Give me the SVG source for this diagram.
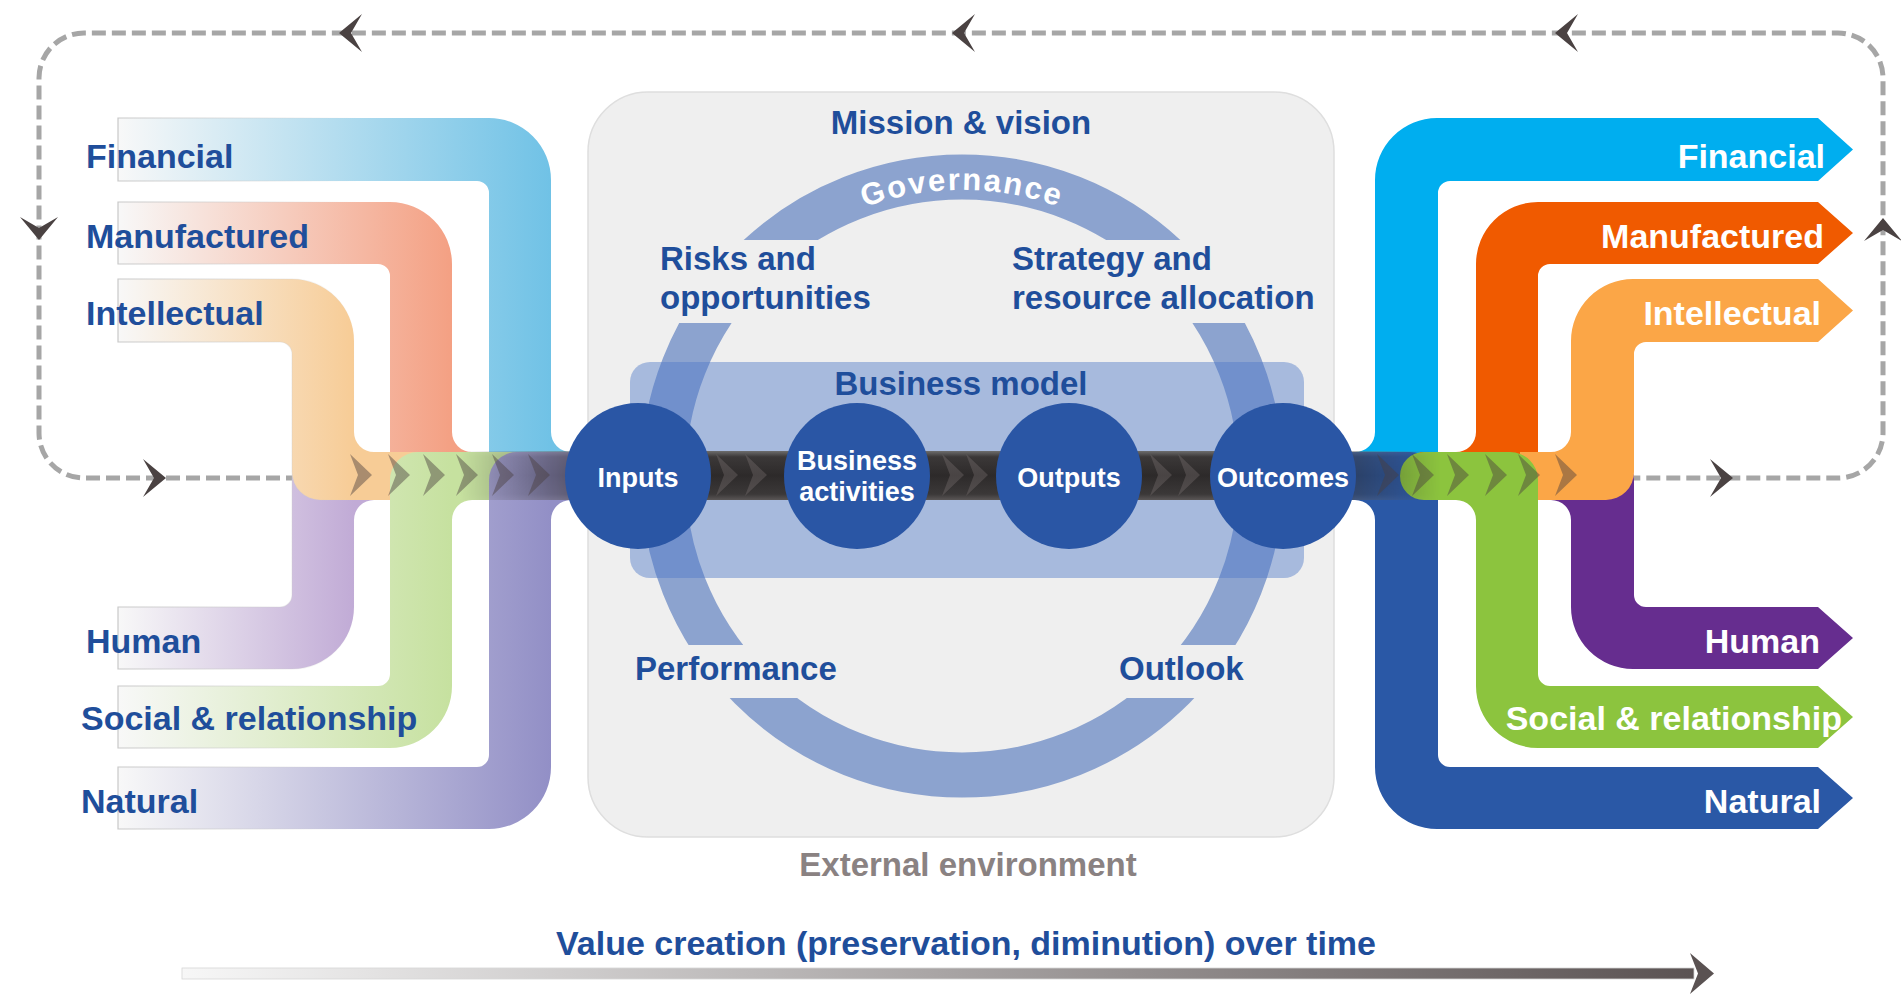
<svg xmlns="http://www.w3.org/2000/svg" xmlns:xlink="http://www.w3.org/1999/xlink" width="1901" height="1002" viewBox="0 0 1901 1002">
<style>
  .lbl { font-family: "Liberation Sans", Arial, sans-serif; font-weight: bold; }
  .cap-in { font-size: 34px; fill: #1f4e9b; }
  .cap-out { font-size: 34px; fill: #ffffff; text-anchor: end; }
  .ctr { font-size: 33px; fill: #1f4e9b; }
  .node-txt { font-size: 27px; fill: #ffffff; text-anchor: middle; }
  .dash { fill: none; stroke: #a6a6a6; stroke-width: 5; stroke-dasharray: 14 6; }
  .ahead { fill: #4a4242; }
  .chev-l { fill: #4a3f3f; fill-opacity: 0.45; }
  .chev-c { fill: #8a8080; fill-opacity: 0.3; }
  .node { fill: #2a56a5; }
  .pipe-in { stroke: url(#edgeFade); stroke-width: 1.2; }
</style>
<defs>
  <linearGradient id="gFinIn" gradientUnits="userSpaceOnUse" x1="118" y1="0" x2="551" y2="0"><stop offset="0" stop-color="#f8f8f8"/><stop offset="1" stop-color="#70c2e6"/></linearGradient>
  <linearGradient id="gManIn" gradientUnits="userSpaceOnUse" x1="118" y1="0" x2="452" y2="0"><stop offset="0" stop-color="#f8f8f8"/><stop offset="1" stop-color="#f4a083"/></linearGradient>
  <linearGradient id="gIntIn" gradientUnits="userSpaceOnUse" x1="118" y1="0" x2="354" y2="0"><stop offset="0" stop-color="#f8f8f8"/><stop offset="1" stop-color="#f7cc96"/></linearGradient>
  <linearGradient id="gHumIn" gradientUnits="userSpaceOnUse" x1="118" y1="0" x2="354" y2="0"><stop offset="0" stop-color="#f8f8f8"/><stop offset="1" stop-color="#c1abd6"/></linearGradient>
  <linearGradient id="gSocIn" gradientUnits="userSpaceOnUse" x1="118" y1="0" x2="452" y2="0"><stop offset="0" stop-color="#f8f8f8"/><stop offset="1" stop-color="#c6e19f"/></linearGradient>
  <linearGradient id="gNatIn" gradientUnits="userSpaceOnUse" x1="118" y1="0" x2="551" y2="0"><stop offset="0" stop-color="#f8f8f8"/><stop offset="1" stop-color="#928fc6"/></linearGradient>
  <linearGradient id="edgeFade" gradientUnits="userSpaceOnUse" x1="118" y1="0" x2="360" y2="0"><stop offset="0" stop-color="#c8c8c8" stop-opacity="1"/><stop offset="1" stop-color="#c8c8c8" stop-opacity="0"/></linearGradient>
  <linearGradient id="darkV" x1="0" y1="0" x2="0" y2="1"><stop offset="0" stop-color="#6d6d6d"/><stop offset="0.12" stop-color="#3b3838"/><stop offset="0.5" stop-color="#2d2a2a"/><stop offset="0.88" stop-color="#3b3838"/><stop offset="1" stop-color="#5a5656"/></linearGradient>
  <linearGradient id="bandFade" gradientUnits="userSpaceOnUse" x1="450" y1="0" x2="1450" y2="0">
    <stop offset="0.01" stop-color="#fff" stop-opacity="0"/>
    <stop offset="0.116" stop-color="#fff" stop-opacity="0.55"/>
    <stop offset="0.19" stop-color="#fff" stop-opacity="1"/>
    <stop offset="0.84" stop-color="#fff" stop-opacity="1"/>
    <stop offset="0.906" stop-color="#fff" stop-opacity="0.5"/>
    <stop offset="0.99" stop-color="#fff" stop-opacity="0"/>
  </linearGradient>
  <mask id="bandMask" maskUnits="userSpaceOnUse" x="440" y="440" width="1020" height="70"><rect x="440" y="440" width="1020" height="70" fill="url(#bandFade)"/></mask>
  <linearGradient id="timeGrad" gradientUnits="userSpaceOnUse" x1="182" y1="0" x2="1700" y2="0"><stop offset="0" stop-color="#f7f7f7"/><stop offset="1" stop-color="#5a5252"/></linearGradient>
  <clipPath id="ringClip">
    <rect x="600" y="100" width="730" height="140"/>
    <rect x="600" y="323" width="730" height="322"/>
    <rect x="600" y="698" width="730" height="130"/>
  </clipPath>
  <path id="govPath" d="M676 476 A286 286 0 0 1 1248 476"/>
  <path id="ah" d="M0 0 L-23 -19 L-12 0 L-23 19 Z"/>
  <path id="chev" d="M0 -21 L22 0 L0 21 L8 0 Z"/>
</defs>

<!-- Central panel -->
<g id="business-panel">
  <rect x="588" y="92" width="746" height="745" rx="60" fill="#efefef" stroke="#dedede" stroke-width="1.5"/>
  <circle cx="962" cy="476" r="299" fill="none" stroke="#2a58b0" stroke-opacity="0.5" stroke-width="45" clip-path="url(#ringClip)"/>
  <text class="lbl" font-size="31" fill="#ffffff" letter-spacing="2"><textPath href="#govPath" startOffset="50%" text-anchor="middle">Governance</textPath></text>
  <rect x="630" y="362" width="674" height="216" rx="20" fill="#4f7ac8" fill-opacity="0.45"/>
  <text class="lbl ctr" x="961" y="134" text-anchor="middle">Mission &amp; vision</text>
  <text class="lbl ctr" x="660" y="270">Risks and</text>
  <text class="lbl ctr" x="660" y="309">opportunities</text>
  <text class="lbl ctr" x="1012" y="270">Strategy and</text>
  <text class="lbl ctr" x="1012" y="309">resource allocation</text>
  <text class="lbl ctr" x="961" y="395" text-anchor="middle">Business model</text>
  <text class="lbl ctr" x="635" y="680">Performance</text>
  <text class="lbl ctr" x="1119" y="680">Outlook</text>
</g>
<text id="external-environment" class="lbl" x="968" y="876" font-size="33" fill="#8a8282" text-anchor="middle">External environment</text>

<!-- Dashed feedback loop -->
<g id="connectors">
  <path class="dash" d="M300 478 H84 A45 45 0 0 1 39 433 V78 A45 45 0 0 1 84 33 H1838 A45 45 0 0 1 1883 78 V433 A45 45 0 0 1 1838 478 H1634"/>
  <use href="#ah" class="ahead" transform="translate(339,33) rotate(180)"/>
  <use href="#ah" class="ahead" transform="translate(952,33) rotate(180)"/>
  <use href="#ah" class="ahead" transform="translate(1555,33) rotate(180)"/>
  <use href="#ah" class="ahead" transform="translate(39,240) rotate(90)"/>
  <use href="#ah" class="ahead" transform="translate(1883,218) rotate(-90)"/>
  <use href="#ah" class="ahead" transform="translate(166,478)"/>
  <use href="#ah" class="ahead" transform="translate(1733,478)"/>
</g>

<!-- Input capitals -->
<g id="input-financial"><path class="pipe-in" fill="url(#gFinIn)" d="M118 118 H489 A62 62 0 0 1 551 180 V432 A20 20 0 0 0 571 452 H610 V500 H517 A28 28 0 0 1 489 472 V193 A12 12 0 0 0 477 181 H118 Z"/></g>
<g id="input-manufactured"><path class="pipe-in" fill="url(#gManIn)" d="M118 202 H390 A62 62 0 0 1 452 264 V432 A20 20 0 0 0 472 452 H610 V500 H418 A28 28 0 0 1 390 472 V276 A12 12 0 0 0 378 264 H118 Z"/></g>
<g id="input-human"><path class="pipe-in" fill="url(#gHumIn)" d="M118 669 H292 A62 62 0 0 0 354 607 V520 A20 20 0 0 1 374 500 H610 V452 H320 A28 28 0 0 0 292 480 V595 A12 12 0 0 1 280 607 H118 Z"/></g>
<g id="input-intellectual"><path class="pipe-in" fill="url(#gIntIn)" d="M118 279 H292 A62 62 0 0 1 354 341 V432 A20 20 0 0 0 374 452 H610 V500 H320 A28 28 0 0 1 292 472 V354 A12 12 0 0 0 280 342 H118 Z"/></g>
<g id="input-social"><path class="pipe-in" fill="url(#gSocIn)" d="M118 748 H390 A62 62 0 0 0 452 686 V520 A20 20 0 0 1 472 500 H610 V452 H418 A28 28 0 0 0 390 480 V674 A12 12 0 0 1 378 686 H118 Z"/></g>
<g id="input-natural"><path class="pipe-in" fill="url(#gNatIn)" d="M118 829 H489 A62 62 0 0 0 551 767 V520 A20 20 0 0 1 571 500 H610 V452 H517 A28 28 0 0 0 489 480 V755 A12 12 0 0 1 477 767 H118 Z"/></g>

<!-- Output capitals -->
<g id="output-financial"><path fill="#00aeef" d="M1320 452 H1355 A20 20 0 0 0 1375 432 V180 A62 62 0 0 1 1437 118 H1818 L1853 149.5 L1818 181 H1450 A12 12 0 0 0 1438 193 V472 A28 28 0 0 1 1410 500 H1320 Z"/></g>
<g id="output-manufactured"><path fill="#f05a00" d="M1420 452 H1456 A20 20 0 0 0 1476 432 V264 A62 62 0 0 1 1538 202 H1818 L1853 233 L1818 264 H1550 A12 12 0 0 0 1538 276 V472 A28 28 0 0 1 1510 500 H1420 Z"/></g>
<g id="output-human"><path fill="#662d8f" d="M1520 500 H1551 A20 20 0 0 1 1571 520 V607 A62 62 0 0 0 1633 669 H1818 L1853 638 L1818 607 H1646 A12 12 0 0 1 1634 595 V480 A28 28 0 0 0 1606 452 H1520 Z"/></g>
<g id="output-natural"><path fill="#2a58a6" d="M1320 500 H1355 A20 20 0 0 1 1375 520 V767 A62 62 0 0 0 1437 829 H1818 L1853 798 L1818 767 H1450 A12 12 0 0 1 1438 755 V480 A28 28 0 0 0 1410 452 H1320 Z"/></g>
<g id="output-intellectual"><path fill="#fba647" d="M1520 452 H1551 A20 20 0 0 0 1571 432 V341 A62 62 0 0 1 1633 279 H1818 L1853 310.5 L1818 342 H1646 A12 12 0 0 0 1634 354 V472 A28 28 0 0 1 1606 500 H1520 Z"/></g>
<g id="output-social"><path fill="#8cc43e" d="M1424 500 H1456 A20 20 0 0 1 1476 520 V686 A62 62 0 0 0 1538 748 H1818 L1853 717 L1818 686 H1550 A12 12 0 0 1 1538 674 V480 A28 28 0 0 0 1510 452 H1424 A24 24 0 0 0 1424 500 Z"/></g>

<!-- Central flow band and chevrons -->
<g id="flow-band">
  <rect x="450" y="451" width="1000" height="49" fill="url(#darkV)" mask="url(#bandMask)"/>
  <use href="#chev" class="chev-l" x="350" y="475"/>
  <use href="#chev" class="chev-l" x="388" y="475"/>
  <use href="#chev" class="chev-l" x="423" y="475"/>
  <use href="#chev" class="chev-l" x="456" y="475"/>
  <use href="#chev" class="chev-l" x="492" y="475"/>
  <use href="#chev" class="chev-l" x="528" y="475"/>
  <use href="#chev" class="chev-c" x="716" y="475"/>
  <use href="#chev" class="chev-c" x="745" y="475"/>
  <use href="#chev" class="chev-c" x="942" y="475"/>
  <use href="#chev" class="chev-c" x="966" y="475"/>
  <use href="#chev" class="chev-c" x="1150" y="475"/>
  <use href="#chev" class="chev-c" x="1178" y="475"/>
  <use href="#chev" class="chev-l" x="1377" y="475"/>
  <use href="#chev" class="chev-l" x="1412" y="475"/>
  <use href="#chev" class="chev-l" x="1447" y="475"/>
  <use href="#chev" class="chev-l" x="1485" y="475"/>
  <use href="#chev" class="chev-l" x="1518" y="475"/>
  <use href="#chev" class="chev-l" x="1555" y="475"/>
</g>

<!-- Nodes -->
<g id="node-inputs"><circle class="node" cx="638" cy="476" r="73"/><text class="lbl node-txt" x="638" y="487">Inputs</text></g>
<g id="node-business-activities"><circle class="node" cx="857" cy="476" r="73"/><text class="lbl node-txt" x="857" y="470">Business</text><text class="lbl node-txt" x="857" y="501">activities</text></g>
<g id="node-outputs"><circle class="node" cx="1069" cy="476" r="73"/><text class="lbl node-txt" x="1069" y="487">Outputs</text></g>
<g id="node-outcomes"><circle class="node" cx="1283" cy="476" r="73"/><text class="lbl node-txt" x="1283" y="487">Outcomes</text></g>

<!-- Capital labels -->
<g id="labels-in">
  <text class="lbl cap-in" x="86" y="168">Financial</text>
  <text class="lbl cap-in" x="86" y="248">Manufactured</text>
  <text class="lbl cap-in" x="86" y="325">Intellectual</text>
  <text class="lbl cap-in" x="86" y="653">Human</text>
  <text class="lbl cap-in" x="81" y="730">Social &amp; relationship</text>
  <text class="lbl cap-in" x="81" y="813">Natural</text>
</g>
<g id="labels-out">
  <text class="lbl cap-out" x="1825" y="168">Financial</text>
  <text class="lbl cap-out" x="1824" y="248">Manufactured</text>
  <text class="lbl cap-out" x="1821" y="325">Intellectual</text>
  <text class="lbl cap-out" x="1820" y="653">Human</text>
  <text class="lbl cap-out" x="1842" y="730">Social &amp; relationship</text>
  <text class="lbl cap-out" x="1821" y="813">Natural</text>
</g>

<!-- Value over time -->
<g id="value-over-time">
  <text class="lbl" x="966" y="955" font-size="34" fill="#1f4e9b" text-anchor="middle">Value creation (preservation, diminution) over time</text>
  <rect x="182" y="968" width="1512" height="11" fill="url(#timeGrad)" stroke="#d6d6d6" stroke-width="0.8"/>
  <path d="M1690 953 L1714 973.5 L1690 994 L1698 973.5 Z" fill="#5a5252"/>
</g>
</svg>
